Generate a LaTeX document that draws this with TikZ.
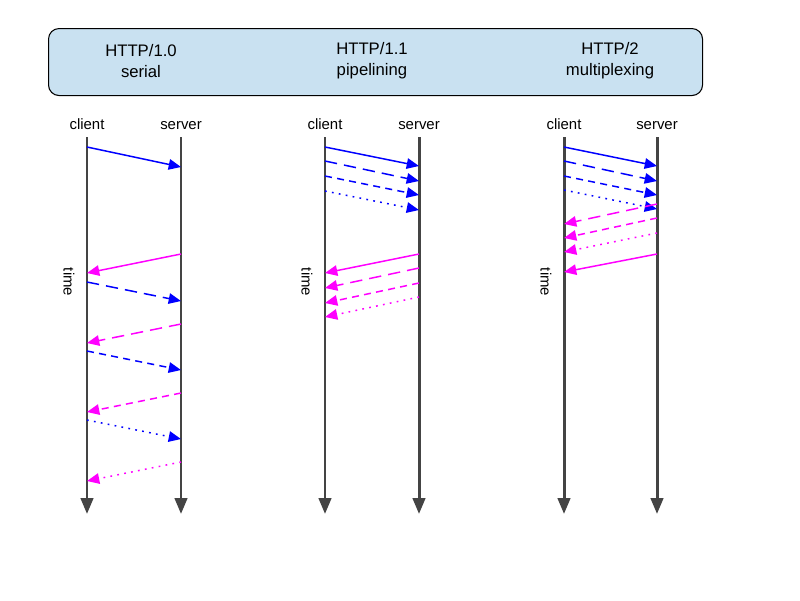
\documentclass[tikz,border=0pt]{standalone}
\usepackage{fontspec}
\setmainfont{Liberation Sans}
\usetikzlibrary{arrows.meta}
\definecolor{boxfill}{HTML}{C9E1F1}
\definecolor{axis}{HTML}{444444}
\definecolor{mag}{HTML}{FF00FF}
\tikzset{
  axisline/.style={draw=axis,line width=1.7pt,-{Triangle[length=9pt,width=7pt]}},
  req/.style={draw=blue,line width=0.85pt,-{Triangle[length=7pt,width=6pt]}},
  rsp/.style={draw=mag,line width=0.85pt,-{Triangle[length=7pt,width=6pt]}},
  ldash/.style={dash pattern=on 7pt off 4pt},
  sdash/.style={dash pattern=on 4pt off 3pt},
  dots/.style={dash pattern=on 1pt off 3pt},
  lbl/.style={font=\fontsize{8.5}{10}\selectfont,text height=6pt,text depth=0pt},
  ttl/.style={font=\fontsize{9.5}{11}\selectfont,align=center}
}
\begin{document}
\begin{tikzpicture}[x=0.02cm,y=-0.02cm]
\useasboundingbox (0,0) rectangle (800,600);
\node[draw=black,fill=boxfill,rounded corners=6pt,line width=0.6pt,minimum width=654*0.02cm,minimum height=67*0.02cm,anchor=north west] (hdr) at (48,28) {};
\node[ttl] (t1) at (141,61) {HTTP/1.0\\[1pt]serial};
\node[ttl] (t2) at (372,61) {HTTP/1.1\\[1pt]pipelining};
\node[ttl] (t3) at (610,61) {HTTP/2\\[1pt]multiplexing};
\foreach \c/\s/\n/\ty in {87/181/a/282,325/419/b/282,564/657/c/282}{
  \coordinate (\n ct) at (\c,137); \coordinate (\n cb) at (\c,514);
  \coordinate (\n st) at (\s,137); \coordinate (\n sb) at (\s,514);
  \draw[axisline] (\n ct) -- (\n cb);
  \draw[axisline] (\n st) -- (\n sb);
  \node[lbl] (\n cl) at (\c,124) {client};
  \node[lbl] (\n sl) at (\s,124) {server};
  \node[lbl,rotate=-90] (\n tm) at (\c-18,\ty) {time};
}
% panel 1
\draw[req] (87,147) -- (181,167);
\draw[rsp] (181,254) -- (87,273);
\draw[req,ldash] (87,282) -- (181,301);
\draw[rsp,ldash] (181,324) -- (87,343);
\draw[req,sdash] (87,351) -- (181,370);
\draw[rsp,sdash] (181,393) -- (87,412);
\draw[req,dots] (87,420) -- (181,439);
\draw[rsp,dots] (181,462) -- (87,481);
% panel 2
\draw[req] (325,147) -- (419,166);
\draw[req,ldash] (325,161) -- (419,181);
\draw[req,sdash] (325,176) -- (419,195);
\draw[req,dots] (325,191) -- (419,210);
\draw[rsp] (419,254) -- (325,273);
\draw[rsp,ldash] (419,268) -- (325,288);
\draw[rsp,sdash] (419,283) -- (325,303);
\draw[rsp,dots] (419,297) -- (325,317);
% panel 3
\draw[req] (564,147) -- (657,166);
\draw[req,ldash] (564,161) -- (657,181);
\draw[req,sdash] (564,176) -- (657,195);
\draw[req,dots] (564,190) -- (657,209);
\draw[rsp,ldash] (657,204) -- (564,224);
\draw[rsp,sdash] (657,218) -- (564,238);
\draw[rsp,dots] (657,233) -- (564,252);
\draw[rsp] (657,254) -- (564,272);
\end{tikzpicture}
\end{document}
